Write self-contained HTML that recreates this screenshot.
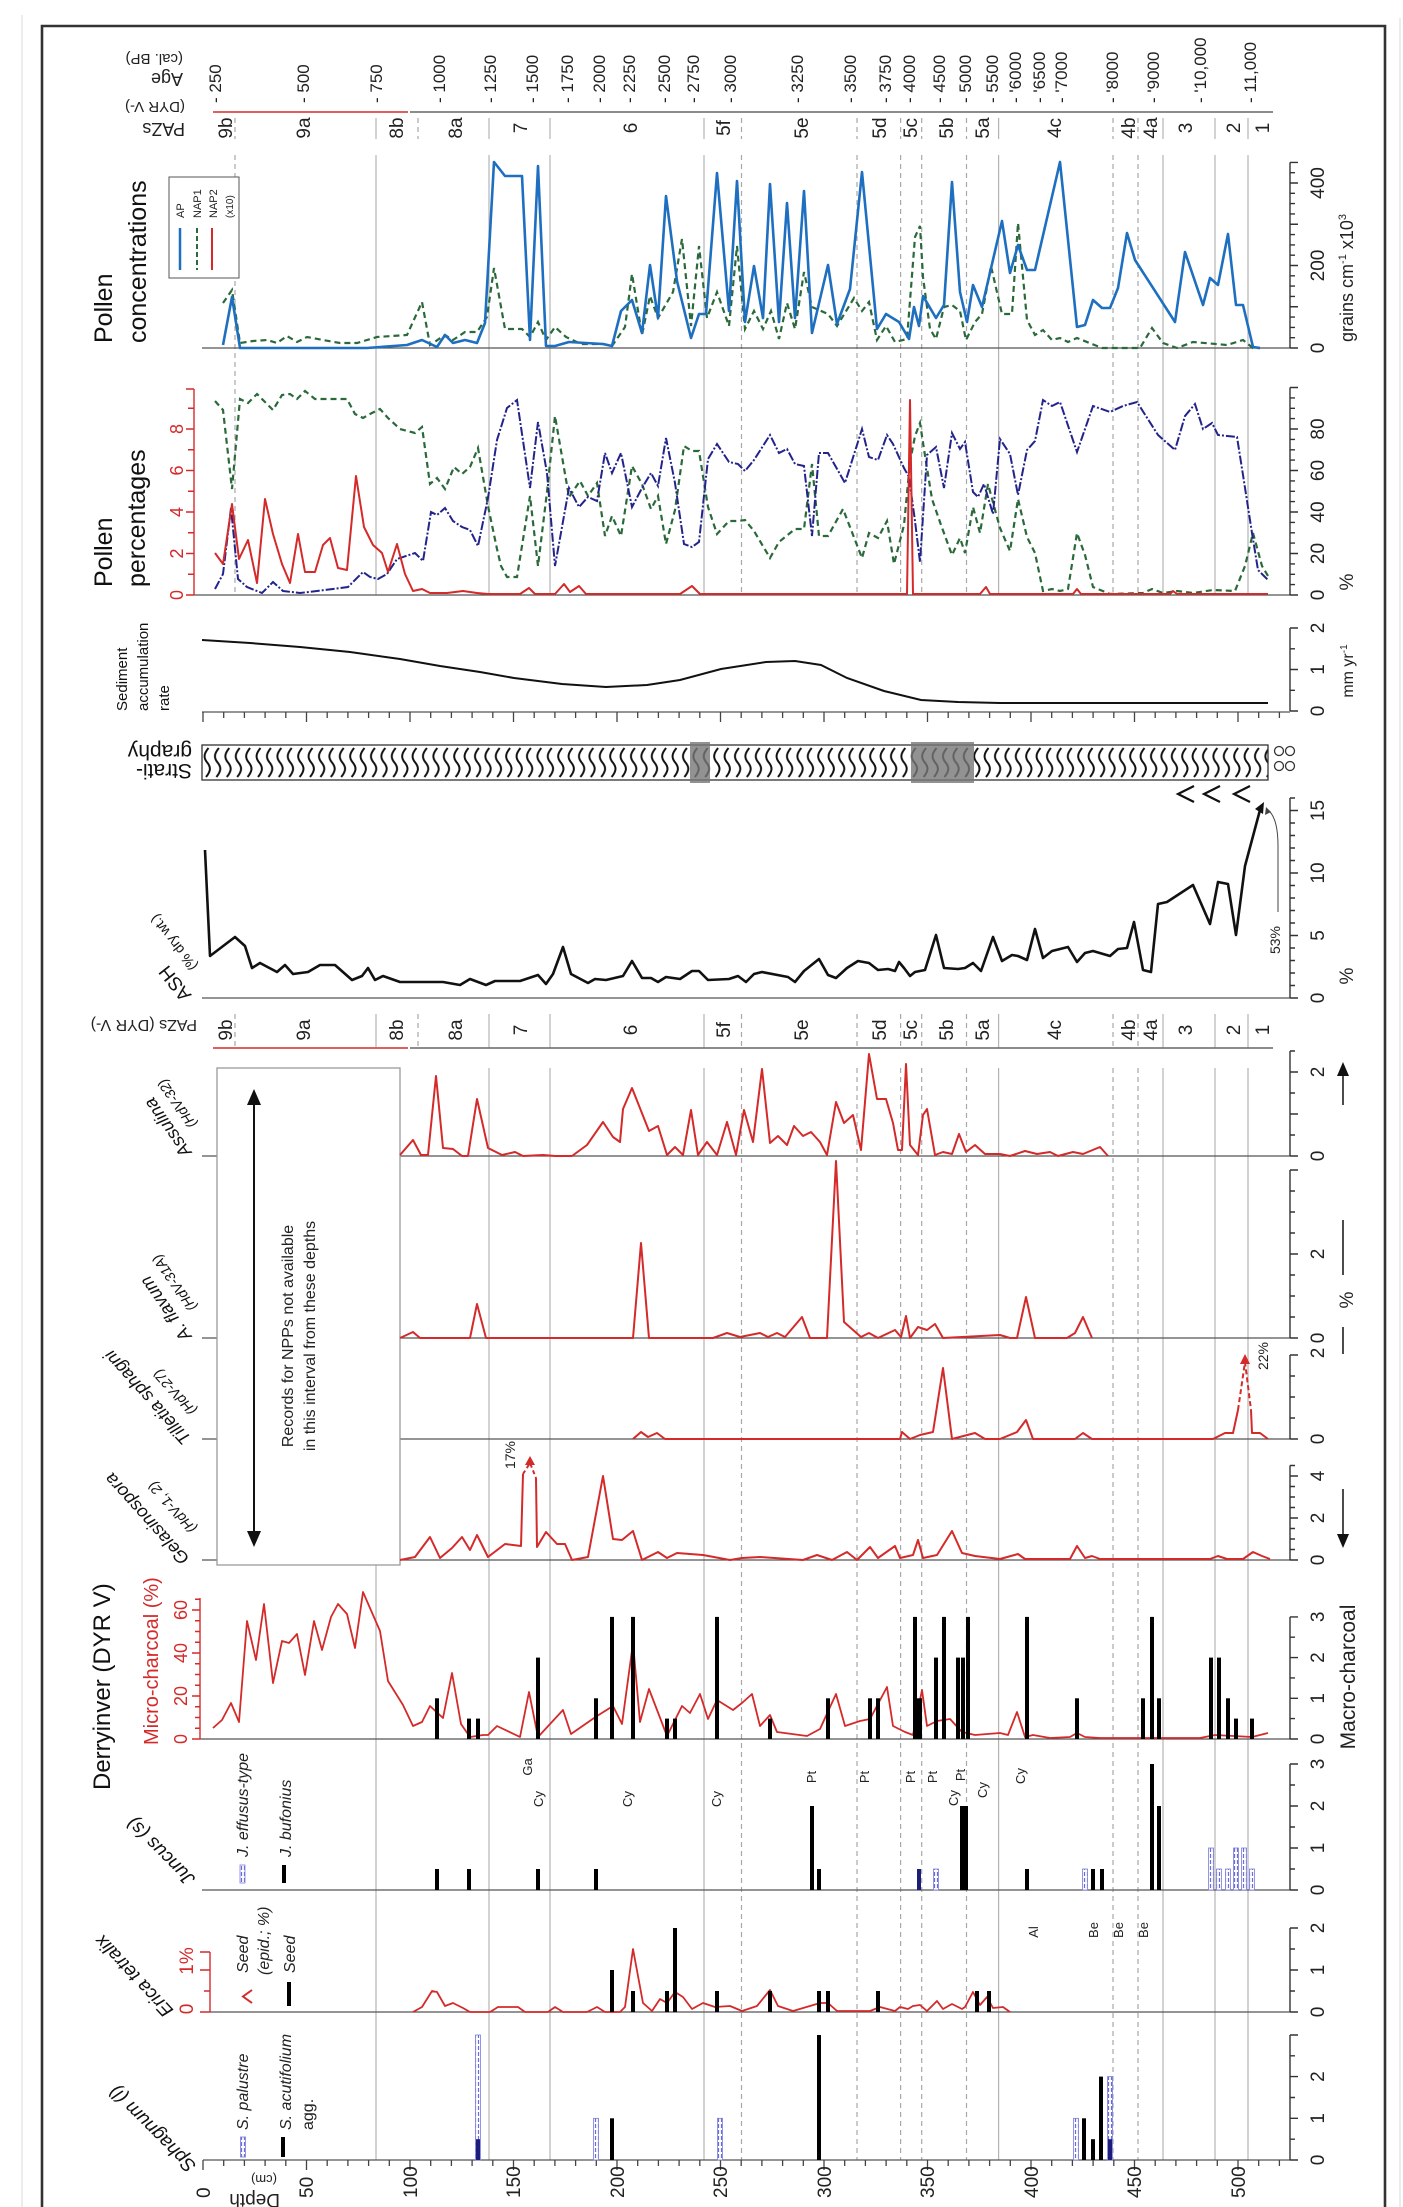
<!DOCTYPE html>
<html><head><meta charset="utf-8"><style>
html,body{margin:0;padding:0;background:#fff;overflow:hidden;}
svg{display:block;font-family:"Liberation Sans",sans-serif;}
</style></head><body>
<svg width="1403" height="2207" viewBox="0 0 1403 2207" xmlns="http://www.w3.org/2000/svg">
<defs>
<pattern id="wav" x="202" y="745" width="10.4" height="35" patternUnits="userSpaceOnUse">
<path d="M6.5,3 C1.5,9 1.5,13 5.2,17.5 C9,22 9,26 4,32" fill="none" stroke="#111" stroke-width="2"/>
</pattern>
<pattern id="bh" x="0" y="0" width="6" height="6" patternUnits="userSpaceOnUse">
<rect width="6" height="6" fill="#fff"/>
<path d="M1.5,0 V4 M4.5,0 V4" stroke="#6b6bdc" stroke-width="1.2"/>
</pattern>
<path id="dt" d="M203,0 v10 M223.7,0 v6 M244.4,0 v6 M265.1,0 v6 M285.8,0 v6 M306.5,0 v10 M327.2,0 v6 M347.9,0 v6 M368.6,0 v6 M389.3,0 v6 M410,0 v10 M430.7,0 v6 M451.4,0 v6 M472.1,0 v6 M492.8,0 v6 M513.5,0 v10 M534.2,0 v6 M554.9,0 v6 M575.6,0 v6 M596.3,0 v6 M617,0 v10 M637.7,0 v6 M658.4,0 v6 M679.1,0 v6 M699.8,0 v6 M720.5,0 v10 M741.2,0 v6 M761.9,0 v6 M782.6,0 v6 M803.3,0 v6 M824,0 v10 M844.7,0 v6 M865.4,0 v6 M886.1,0 v6 M906.8,0 v6 M927.5,0 v10 M948.2,0 v6 M968.9,0 v6 M989.6,0 v6 M1010.3,0 v6 M1031,0 v10 M1051.7,0 v6 M1072.4,0 v6 M1093.1,0 v6 M1113.8,0 v6 M1134.5,0 v10 M1155.2,0 v6 M1175.9,0 v6 M1196.6,0 v6 M1217.3,0 v6 M1238,0 v10 M1258.7,0 v6 M1279.4,0 v6" stroke="#444" stroke-width="1.3" fill="none"/>
</defs>

<!-- faint outer lines -->
<path d="M22,15 V2207 M1400,18 V2207" stroke="#e6e6e6" stroke-width="1.5"/>
<!-- frame -->
<path d="M42,2207 V26 H1385 V2207" fill="none" stroke="#333" stroke-width="2.6"/>

<!-- zone lines -->
<g fill="none" stroke-width="1.2">
<path stroke="#b3b3b3" d="M376,118V139M376,155V595 M489,118V139M489,155V595 M550,118V139M550,155V595 M704,118V139M704,155V595 M998.6,118V139M998.6,155V595 M1163,118V139M1163,155V595 M1215,118V139M1215,155V595 M1248,118V139M1248,155V595
M376,1014V1048M376,1068V2160 M489,1014V1048M489,1068V2160 M550,1014V1048M550,1068V2160 M704,1014V1048M704,1068V2160 M998.6,1014V1048M998.6,1068V2160 M1163,1014V1048M1163,1068V2160 M1215,1014V1048M1215,1068V2160 M1248,1014V1048M1248,1068V2160"/>
<path stroke="#a8a8a8" stroke-dasharray="5,4" d="M235,118V139M235,155V595 M418,118V139 M741.5,118V139M741.5,155V595 M857,118V139M857,155V595 M900.6,118V139M900.6,155V595 M921.7,118V139M921.7,155V595 M966.5,118V139M966.5,155V595 M1113,118V139M1113,155V595 M1138,118V139M1138,155V595
M235,1014V1048 M418,1014V1048 M741.5,1014V1048M741.5,1068V2160 M857,1014V1048M857,1068V2160 M900.6,1014V1048M900.6,1068V2160 M921.7,1014V1048M921.7,1068V2160 M966.5,1014V1048M966.5,1068V2160 M1113,1014V1048M1113,1068V2160 M1138,1014V1048M1138,1068V2160"/>
</g>

<!-- top header labels (upside down) -->
<g fill="#222">
<text transform="translate(183,54) rotate(180)" font-size="15">(cal. BP)</text>
<text transform="translate(183,73) rotate(180)" font-size="18">Age</text>
<text transform="translate(185,102) rotate(180)" font-size="15">(DYR V-)</text>
<text transform="translate(185,123) rotate(180)" font-size="18">PAZs</text>
</g>
<!-- age labels -->
<g font-size="17" fill="#222">
<text transform="translate(221,103) rotate(-90)">- 250</text>
<text transform="translate(309,103) rotate(-90)">- 500</text>
<text transform="translate(382,103) rotate(-90)">- 750</text>
<text transform="translate(445,103) rotate(-90)">- 1000</text>
<text transform="translate(496,103) rotate(-90)">- 1250</text>
<text transform="translate(538,103) rotate(-90)">- 1500</text>
<text transform="translate(573,103) rotate(-90)">- 1750</text>
<text transform="translate(605,103) rotate(-90)">- 2000</text>
<text transform="translate(635,103) rotate(-90)">- 2250</text>
<text transform="translate(670,103) rotate(-90)">- 2500</text>
<text transform="translate(699,103) rotate(-90)">- 2750</text>
<text transform="translate(736,103) rotate(-90)">- 3000</text>
<text transform="translate(803,103) rotate(-90)">- 3250</text>
<text transform="translate(856,103) rotate(-90)">- 3500</text>
<text transform="translate(891,103) rotate(-90)">- 3750</text>
<text transform="translate(915,103) rotate(-90)">- 4000</text>
<text transform="translate(945,103) rotate(-90)">- 4500</text>
<text transform="translate(971,103) rotate(-90)">- 5000</text>
<text transform="translate(998,103) rotate(-90)">- 5500</text>
<text transform="translate(1021,103) rotate(-90)">- '6000</text>
<text transform="translate(1045,103) rotate(-90)">- '6500</text>
<text transform="translate(1067,103) rotate(-90)">- '7000</text>
<text transform="translate(1118,103) rotate(-90)">- '8000</text>
<text transform="translate(1159,103) rotate(-90)">- '9000</text>
<text transform="translate(1206,103) rotate(-90)">- '10,000</text>
<text transform="translate(1256,103) rotate(-90)">- 11,000</text>
</g>
<!-- PAZ lines -->
<path d="M213,112 H408 M213,1048 H408" stroke="#e06060" stroke-width="2"/>
<path d="M410,112 H1273 M410,1048 H1273" stroke="#666" stroke-width="1.5"/>
<!-- PAZ labels row 1 & 2 -->
<g font-size="19" fill="#222" text-anchor="middle">
<text transform="translate(232,128) rotate(-90)">9b</text>
<text transform="translate(310,128) rotate(-90)">9a</text>
<text transform="translate(403,128) rotate(-90)">8b</text>
<text transform="translate(462,128) rotate(-90)">8a</text>
<text transform="translate(527,128) rotate(-90)">7</text>
<text transform="translate(637,128) rotate(-90)">6</text>
<text transform="translate(730,128) rotate(-90)">5f</text>
<text transform="translate(808,128) rotate(-90)">5e</text>
<text transform="translate(886,128) rotate(-90)">5d</text>
<text transform="translate(917,128) rotate(-90)">5c</text>
<text transform="translate(953,128) rotate(-90)">5b</text>
<text transform="translate(989,128) rotate(-90)">5a</text>
<text transform="translate(1061,128) rotate(-90)">4c</text>
<text transform="translate(1135,128) rotate(-90)">4b</text>
<text transform="translate(1157,128) rotate(-90)">4a</text>
<text transform="translate(1192,128) rotate(-90)">3</text>
<text transform="translate(1240,128) rotate(-90)">2</text>
<text transform="translate(1269,128) rotate(-90)">1</text>

<text transform="translate(232,1030) rotate(-90)">9b</text>
<text transform="translate(310,1030) rotate(-90)">9a</text>
<text transform="translate(403,1030) rotate(-90)">8b</text>
<text transform="translate(462,1030) rotate(-90)">8a</text>
<text transform="translate(527,1030) rotate(-90)">7</text>
<text transform="translate(637,1030) rotate(-90)">6</text>
<text transform="translate(730,1030) rotate(-90)">5f</text>
<text transform="translate(808,1030) rotate(-90)">5e</text>
<text transform="translate(886,1030) rotate(-90)">5d</text>
<text transform="translate(917,1030) rotate(-90)">5c</text>
<text transform="translate(953,1030) rotate(-90)">5b</text>
<text transform="translate(989,1030) rotate(-90)">5a</text>
<text transform="translate(1061,1030) rotate(-90)">4c</text>
<text transform="translate(1135,1030) rotate(-90)">4b</text>
<text transform="translate(1157,1030) rotate(-90)">4a</text>
<text transform="translate(1192,1030) rotate(-90)">3</text>
<text transform="translate(1240,1030) rotate(-90)">2</text>
<text transform="translate(1269,1030) rotate(-90)">1</text>
</g>
<text transform="translate(197,1020) rotate(180)" font-size="16" fill="#222">PAZs (DYR V-)</text>

<!-- Panel titles (left) -->
<g fill="#111">
<text transform="translate(112,343) rotate(-90)" font-size="25">Pollen</text>
<text transform="translate(146,343) rotate(-90)" font-size="25">concentrations</text>
<text transform="translate(112,587) rotate(-90)" font-size="25">Pollen</text>
<text transform="translate(145,587) rotate(-90)" font-size="25">percentages</text>
<text transform="translate(127,711) rotate(-90)" font-size="15">Sediment</text>
<text transform="translate(148,711) rotate(-90)" font-size="15">accumulation</text>
<text transform="translate(169,711) rotate(-90)" font-size="15">rate</text>
<text transform="translate(192,764) rotate(180)" font-size="21">Strati-</text>
<text transform="translate(192,745) rotate(180)" font-size="21">graphy</text>
<text transform="translate(192,995) rotate(-128)" font-size="19">ASH</text>
<text transform="translate(198,966) rotate(-128)" font-size="14">(% dry wt.)</text>
<g font-style="italic">
<text transform="translate(192,1152) rotate(-125)" font-size="18">Assulina</text>
<text transform="translate(197,1124) rotate(-125)" font-size="14">(HdV-32)</text>
<text transform="translate(192,1336) rotate(-125)" font-size="18">A. flavum</text>
<text transform="translate(197,1307) rotate(-125)" font-size="14">(HdV-31A)</text>
<text transform="translate(192,1438) rotate(-132)" font-size="18">Tilletia sphagni</text>
<text transform="translate(197,1410) rotate(-132)" font-size="14">(HdV-27)</text>
<text transform="translate(190,1558) rotate(-132)" font-size="18">Gelasinospora</text>
<text transform="translate(197,1528) rotate(-132)" font-size="14">(HdV-1, 2)</text>
<text transform="translate(196,1878) rotate(-135)" font-size="19">Juncus (s)</text>
<text transform="translate(174,2010) rotate(-133)" font-size="19">Erica tetralix</text>
<text transform="translate(197,2165) rotate(-135)" font-size="19">Sphagnum (l)</text>
</g>
<text transform="translate(110,1790) rotate(-90)" font-size="24">Derryinver (DYR V)</text>
<text transform="translate(158,1745) rotate(-90)" font-size="20" fill="#d42a2a">Micro-charcoal (%)</text>
</g>

<!-- legend pollen conc -->
<rect x="169" y="177" width="70" height="101" fill="#fff" stroke="#555" stroke-width="1"/>
<path d="M180,228 V270" stroke="#1e6fc0" stroke-width="2.5"/>
<path d="M197,228 V270" stroke="#2a6a3a" stroke-width="2" stroke-dasharray="5,3"/>
<path d="M212,228 V270" stroke="#d42a2a" stroke-width="2"/>
<g font-size="11" fill="#222">
<text transform="translate(184,218) rotate(-90)">AP</text>
<text transform="translate(201,218) rotate(-90)">NAP1</text>
<text transform="translate(217,218) rotate(-90)">NAP2</text>
<text transform="translate(233,218) rotate(-90)" font-size="10">(x10)</text>
</g>

<!-- baselines -->
<g stroke="#555" stroke-width="1.3" fill="none">
<path d="M202,348 H1290 M194,595 H1290 M202,712 H1290 M202,998 H1290 M200,1739 H1290 M202,1890 H1290 M210,2012 H1290 M203,2160 H1290"/>
<path d="M202,1156 H217 M400,1156 H1290 M202,1338 H217 M400,1338 H1290 M202,1439 H217 M400,1439 H1290 M202,1560 H217 M400,1560 H1290"/>
</g>
<use href="#dt" y="2160"/>
<use href="#dt" y="712"/>

<!-- Right axes -->
<g stroke="#333" stroke-width="1.4" fill="none">
<path d="M1290,348V162.4 M1290,348H1298 M1290,337.7H1295 M1290,327.4H1295 M1290,317.1H1295 M1290,306.75H1298 M1290,296.4H1295 M1290,286.1H1295 M1290,275.8H1295 M1290,265.5H1298 M1290,255.2H1295 M1290,244.9H1295 M1290,234.6H1295 M1290,224.25H1298 M1290,213.9H1295 M1290,203.6H1295 M1290,193.3H1295 M1290,183H1298 M1290,172.7H1295 M1290,162.4H1298"/>
<path d="M1290,595V387.5 M1290,595H1298 M1290,584.6H1295 M1290,574.3H1295 M1290,563.9H1295 M1290,553.5H1298 M1290,543.1H1295 M1290,532.8H1295 M1290,522.4H1295 M1290,512H1298 M1290,501.6H1295 M1290,491.3H1295 M1290,480.9H1295 M1290,470.5H1298 M1290,460.1H1295 M1290,449.8H1295 M1290,439.4H1295 M1290,429H1298 M1290,418.6H1295 M1290,408.3H1295 M1290,397.9H1295 M1290,387.5H1298"/>
<path d="M1290,711V628 M1290,711H1298 M1290,690.3H1295 M1290,669.5H1298 M1290,648.8H1295 M1290,628H1298"/>
<path d="M1290,998V798 M1290,998H1298 M1290,985.5H1295 M1290,973H1295 M1290,960.5H1295 M1290,948H1295 M1290,935.5H1298 M1290,923H1295 M1290,910.5H1295 M1290,898H1295 M1290,885.5H1295 M1290,873H1298 M1290,860.5H1295 M1290,848H1295 M1290,835.5H1295 M1290,823H1295 M1290,810.5H1298 M1290,798H1295"/>
<path d="M1290,1156V1051 M1290,1156H1298 M1290,1135H1295 M1290,1114H1298 M1290,1093H1295 M1290,1072H1298 M1290,1051H1295"/>
<path d="M1290,1338V1170 M1290,1338H1298 M1290,1317H1295 M1290,1296H1295 M1290,1275H1295 M1290,1254H1298 M1290,1233H1295 M1290,1212H1295 M1290,1191H1295 M1290,1170H1298"/>
<path d="M1290,1439V1355 M1290,1439H1298 M1290,1418H1295 M1290,1397H1295 M1290,1376H1295 M1290,1355H1298"/>
<path d="M1290,1560V1465.5 M1290,1560H1298 M1290,1549.5H1295 M1290,1539H1295 M1290,1528.5H1295 M1290,1518H1298 M1290,1507.5H1295 M1290,1497H1295 M1290,1486.5H1295 M1290,1476H1298 M1290,1465.5H1295"/>
<path d="M1290,1739V1616.9 M1290,1739H1298 M1290,1718.6H1295 M1290,1698.3H1298 M1290,1677.9H1295 M1290,1657.6H1298 M1290,1637.2H1295 M1290,1616.9H1298"/>
<path d="M1290,1890V1764 M1290,1890H1298 M1290,1869H1295 M1290,1848H1298 M1290,1827H1295 M1290,1806H1298 M1290,1785H1295 M1290,1764H1298"/>
<path d="M1290,2012V1928 M1290,2012H1298 M1290,1991H1295 M1290,1970H1298 M1290,1949H1295 M1290,1928H1298"/>
<path d="M1290,2160V2035 M1290,2160H1298 M1290,2139.2H1295 M1290,2118.3H1298 M1290,2097.5H1295 M1290,2076.6H1298 M1290,2055.8H1295 M1290,2035H1298"/>
</g>
<g font-size="19" fill="#222" text-anchor="middle">
<text transform="translate(1324,348) rotate(-90)">0</text>
<text transform="translate(1324,265.5) rotate(-90)">200</text>
<text transform="translate(1324,183) rotate(-90)">400</text>
<text transform="translate(1324,595) rotate(-90)">0</text>
<text transform="translate(1324,553.5) rotate(-90)">20</text>
<text transform="translate(1324,512) rotate(-90)">40</text>
<text transform="translate(1324,470.5) rotate(-90)">60</text>
<text transform="translate(1324,429) rotate(-90)">80</text>
<text transform="translate(1324,711) rotate(-90)">0</text>
<text transform="translate(1324,669.5) rotate(-90)">1</text>
<text transform="translate(1324,628) rotate(-90)">2</text>
<text transform="translate(1324,998) rotate(-90)">0</text>
<text transform="translate(1324,935.5) rotate(-90)">5</text>
<text transform="translate(1324,873) rotate(-90)">10</text>
<text transform="translate(1324,810.5) rotate(-90)">15</text>
<text transform="translate(1324,1156) rotate(-90)">0</text>
<text transform="translate(1324,1072) rotate(-90)">2</text>
<text transform="translate(1324,1338) rotate(-90)">0</text>
<text transform="translate(1324,1254) rotate(-90)">2</text>
<text transform="translate(1324,1439) rotate(-90)">0</text>
<text transform="translate(1324,1353) rotate(-90)">2</text>
<text transform="translate(1324,1560) rotate(-90)">0</text>
<text transform="translate(1324,1518) rotate(-90)">2</text>
<text transform="translate(1324,1476) rotate(-90)">4</text>
<text transform="translate(1324,1739) rotate(-90)">0</text>
<text transform="translate(1324,1698.3) rotate(-90)">1</text>
<text transform="translate(1324,1657.6) rotate(-90)">2</text>
<text transform="translate(1324,1616.9) rotate(-90)">3</text>
<text transform="translate(1324,1890) rotate(-90)">0</text>
<text transform="translate(1324,1848) rotate(-90)">1</text>
<text transform="translate(1324,1806) rotate(-90)">2</text>
<text transform="translate(1324,1764) rotate(-90)">3</text>
<text transform="translate(1324,2012) rotate(-90)">0</text>
<text transform="translate(1324,1970) rotate(-90)">1</text>
<text transform="translate(1324,1928) rotate(-90)">2</text>
<text transform="translate(1324,2160) rotate(-90)">0</text>
<text transform="translate(1324,2118.3) rotate(-90)">1</text>
<text transform="translate(1324,2076.6) rotate(-90)">2</text>
</g>
<!-- right axis titles -->
<g fill="#222" text-anchor="middle">
<text transform="translate(1353,278) rotate(-90)" font-size="18">grains cm<tspan font-size="11" dy="-7">-1</tspan><tspan dy="7"> x10</tspan><tspan font-size="11" dy="-7">3</tspan></text>
<text transform="translate(1353,582) rotate(-90)" font-size="19">%</text>
<text transform="translate(1353,671) rotate(-90)" font-size="16">mm yr<tspan font-size="10" dy="-6">-1</tspan></text>
<text transform="translate(1353,976) rotate(-90)" font-size="19">%</text>
<text transform="translate(1353,1300) rotate(-90)" font-size="19">%</text>
<text transform="translate(1355,1677) rotate(-90)" font-size="21">Macro-charcoal</text>
</g>
<!-- NPP arrow on right -->
<g stroke="#111" stroke-width="1.5">
<path d="M1343,1072 V1105 M1343,1220 V1275 M1343,1327 V1354 M1343,1489 V1540"/>
</g>
<path d="M1343,1062 L1337,1076 L1349,1076 Z M1343,1548 L1337,1534 L1349,1534 Z" fill="#111"/>

<!-- left red axes -->
<g stroke="#d42a2a" stroke-width="1.4" fill="none">
<path d="M194,595V389 M186,595H194 M188,574.25H194 M186,553.5H194 M188,532.75H194 M186,512H194 M188,491.25H194 M186,470.5H194 M188,449.75H194 M186,429H194 M188,408.25H194 M186,389H194"/>
<path d="M200,1739V1598 M192,1739H200 M195,1728.25H200 M195,1717.5H200 M195,1706.75H200 M192,1696H200 M195,1685.25H200 M195,1674.5H200 M195,1663.75H200 M192,1653H200 M195,1642.25H200 M195,1631.5H200 M195,1620.75H200 M192,1610H200 M195,1599.25H200"/>
<path d="M210,2012V1952 M200,2012H210 M204,1991H210 M200,1970H210 M200,1952H210"/>
</g>
<g fill="#d42a2a" font-size="18" text-anchor="middle">
<text transform="translate(183,595) rotate(-90)">0</text>
<text transform="translate(183,553.5) rotate(-90)">2</text>
<text transform="translate(183,512) rotate(-90)">4</text>
<text transform="translate(183,470.5) rotate(-90)">6</text>
<text transform="translate(183,429) rotate(-90)">8</text>
<text transform="translate(187,1739) rotate(-90)">0</text>
<text transform="translate(187,1696) rotate(-90)">20</text>
<text transform="translate(187,1653) rotate(-90)">40</text>
<text transform="translate(187,1610) rotate(-90)">60</text>
<text transform="translate(193,2009) rotate(-90)" font-size="19">0</text>
<text transform="translate(193,1961) rotate(-90)" font-size="19">1%</text>
</g>

<!-- depth labels -->
<g font-size="19" fill="#222">
<text transform="translate(210,2198) rotate(-90)">0</text>
<text transform="translate(313,2198) rotate(-90)">50</text>
<text transform="translate(417,2198) rotate(-90)">100</text>
<text transform="translate(520,2198) rotate(-90)">150</text>
<text transform="translate(624,2198) rotate(-90)">200</text>
<text transform="translate(727,2198) rotate(-90)">250</text>
<text transform="translate(831,2198) rotate(-90)">300</text>
<text transform="translate(934,2198) rotate(-90)">350</text>
<text transform="translate(1038,2198) rotate(-90)">400</text>
<text transform="translate(1141,2198) rotate(-90)">450</text>
<text transform="translate(1245,2198) rotate(-90)">500</text>
</g>
<text transform="translate(280,2194) rotate(180)" font-size="19" fill="#222">Depth</text>
<text transform="translate(277,2175) rotate(180)" font-size="13" fill="#222">(cm)</text>

<!-- Pollen concentrations -->
<polyline fill="none" stroke="#2a6a3a" stroke-width="2.2" stroke-dasharray="6,4" points="223,303 232,290 240,343 253,341 267,340 277,343 287,336 297,342 307,337 323,340 340,343 357,343 377,337 407,335 422,302 430,345 445,335 453,340 465,332 477,332 487,317 494,268 505,329 522,329 530,337 538,322 546,340 555,327 566,337 581,344 603,344 612,346 625,327 632,274 642,335 650,296 658,318 673,292 682,239 691,326 699,246 707,318 717,292 729,326 737,246 745,329 754,311 763,329 771,311 779,339 787,303 795,329 804,272 812,307 828,314 837,326 854,298 862,311 869,302 877,340 886,326 895,342 907,339 915,237 920,226 923,277 930,329 936,339 944,307 952,305 960,311 966,340 975,322 982,314 991,266 1002,314 1012,314 1018,223 1027,320 1035,335 1043,330 1052,340 1060,338 1068,342 1077,338 1102,348 1140,348 1152,328 1163,343 1177,348 1193,342 1227,345 1243,340 1253,348 1260,348"/>
<polyline fill="none" stroke="#1e6fc0" stroke-width="2.6" stroke-linejoin="round" points="223,345 232,297 240,348 367,348 407,345 422,340 437,347 445,335 453,343 465,340 477,343 485,323 494,162 505,176 522,176 530,340 538,166 546,346 555,346 569,342 603,344 612,346 621,311 632,300 642,333 650,265 658,318 666,196 677,281 691,338 699,314 706,314 717,173 729,311 737,181 745,322 754,266 763,318 770,184 779,322 787,203 795,318 804,191 812,333 828,265 837,324 850,289 862,172 877,329 886,314 899,322 909,339 914,307 919,326 923,296 936,318 944,305 952,182 960,292 967,322 973,285 982,307 1002,221 1010,273 1018,245 1027,270 1035,270 1060,162 1077,327 1085,325 1093,300 1102,308 1110,308 1118,288 1127,233 1135,260 1175,322 1185,252 1203,305 1210,278 1218,285 1228,234 1236,305 1243,305 1253,347 1260,348"/>

<!-- Pollen percentages -->
<polyline fill="none" stroke="#2a6a3a" stroke-width="2.2" stroke-dasharray="6,4" points="215,401 223,410 232,489 240,399 248,403 257,394 273,410 282,395 290,394 297,399 305,391 315,399 323,399 333,399 347,399 355,414 363,418 370,414 380,409 388,418 400,429 415,433 422,427 430,484 437,478 445,489 454,467 462,474 470,467 478,448 488,506 497,549 501,566 507,577 517,577 530,496 538,566 547,492 555,416 569,497 580,481 588,496 597,483 605,536 612,516 621,536 632,466 642,484 651,509 658,496 666,544 675,510 684,446 692,451 699,451 708,507 717,534 729,521 738,521 745,520 754,531 770,558 779,542 795,529 804,529 812,464 819,536 828,536 843,509 862,558 869,533 878,538 887,521 894,564 904,525 910,462 915,436 920,423 926,462 932,499 941,525 952,555 960,538 965,553 973,507 980,533 988,484 1000,528 1010,551 1018,499 1027,537 1035,553 1043,591 1052,589 1060,591 1068,589 1077,533 1085,555 1093,587 1110,594 1143,593 1152,589 1163,593 1177,591 1193,593 1213,590 1235,591 1245,566 1253,533 1262,566 1268,576"/>
<polyline fill="none" stroke="#23238c" stroke-width="2" stroke-dasharray="9,2,2,2" points="215,589 223,574 231,508 238,579 247,587 262,593 273,582 283,591 300,593 317,591 333,589 348,587 363,572 370,577 378,579 387,574 397,559 415,553 423,561 431,512 437,515 445,508 453,521 462,527 470,530 478,546 488,498 497,440 507,408 517,400 530,488 538,422 547,473 555,566 569,488 579,507 588,497 597,501 605,453 612,473 621,453 632,507 642,488 651,473 658,486 666,438 675,483 684,544 692,547 699,542 708,459 717,444 729,462 738,464 745,471 754,460 770,435 779,453 787,449 795,464 804,466 812,536 819,453 828,453 845,483 862,429 869,457 878,460 887,435 893,444 904,468 909,477 915,521 920,562 927,455 936,447 944,488 952,433 960,449 965,442 973,492 978,497 984,484 993,514 1000,439 1010,454 1018,495 1027,450 1035,441 1043,400 1052,406 1060,402 1077,452 1093,406 1110,412 1123,406 1137,402 1158,435 1175,450 1185,416 1195,404 1203,429 1212,423 1218,435 1237,437 1243,475 1252,533 1258,570 1268,580"/>
<polyline fill="none" stroke="#d42a2a" stroke-width="2" stroke-linejoin="round" points="215,553 223,564 232,504 239,559 248,540 257,583 265,499 273,534 282,564 290,583 298,534 305,572 315,572 323,545 330,538 338,568 347,570 356,476 364,527 373,545 382,553 388,572 397,544 405,574 413,591 422,589 430,593 447,593 463,591 477,593 488,594 520,594 529,588 535,594 555,594 564,584 570,592 579,586 586,594 680,594 692,586 700,594 907,594 910,400 913,594 980,594 986,587 990,594 1073,594 1077,589 1081,594 1170,594 1173,591 1177,594 1268,594"/>

<!-- Sediment accumulation -->
<polyline fill="none" stroke="#111" stroke-width="2" points="202,640 250,643 300,647 350,652 400,659 440,666 480,672 514,678 562,684 606,687 647,685 680,680 721,669 766,662 795,661 821,665 847,678 884,691 921,700 958,702 1000,703 1268,703"/>

<!-- Stratigraphy -->
<rect x="202" y="745" width="1066" height="35" fill="url(#wav)" stroke="#333" stroke-width="1.3"/>
<rect x="690" y="742" width="20" height="41" fill="#777" fill-opacity="0.8"/>
<rect x="911" y="742" width="63" height="41" fill="#777" fill-opacity="0.8"/>
<g fill="none" stroke="#333" stroke-width="1.3">
<circle cx="1279" cy="751" r="4.5"/><circle cx="1279" cy="766" r="4.5"/>
<circle cx="1290" cy="751" r="4.5"/><circle cx="1290" cy="766" r="4.5"/>
</g>
<!-- < marks -->
<g fill="none" stroke="#111" stroke-width="2.2">
<polyline points="1194,786 1178,794 1194,802"/>
<polyline points="1220,786 1204,794 1220,802"/>
<polyline points="1250,786 1234,794 1250,802"/>
</g>

<!-- ASH -->
<polyline fill="none" stroke="#111" stroke-width="2.6" stroke-linejoin="round" points="205,850 210,956 235,937 245,946 252,968 260,963 277,972 285,965 293,974 308,972 320,965 335,965 352,980 362,976 368,968 375,980 383,976 400,982 427,982 443,982 460,985 470,979 486,985 495,981 520,981 538,975 546,984 553,974 563,947 571,974 588,983 595,979 606,980 623,976 632,961 642,978 651,978 658,982 666,977 680,979 692,971 699,971 708,980 729,979 738,976 746,982 754,974 762,972 788,977 795,982 804,971 819,959 828,975 836,978 847,968 858,961 869,963 878,970 888,969 895,971 899,962 904,968 910,976 915,972 925,970 936,935 944,968 958,969 965,968 973,963 981,971 993,937 1002,961 1012,955 1018,956 1027,960 1035,929 1043,958 1052,951 1068,947 1077,962 1085,953 1093,951 1110,956 1118,949 1127,948 1134,922 1143,970 1151,972 1158,904 1167,902 1193,885 1210,924 1218,882 1228,884 1236,935 1245,866 1260,810"/>
<path d="M1264,802 L1255,809 L1263,814 Z" fill="#111"/>
<path d="M1278,912 V846 Q1278,818 1268,810" fill="none" stroke="#444" stroke-width="1"/>
<path d="M1266,807 L1265,815 L1271,812 Z" fill="#444"/>
<text transform="translate(1280,940) rotate(-90)" font-size="14" fill="#222" text-anchor="middle">53%</text>

<!-- NPP box -->
<rect x="217" y="1068" width="183" height="497" fill="#fff" stroke="#9a9a9a" stroke-width="1.3"/>
<path d="M254,1100 V1536" stroke="#111" stroke-width="2"/>
<path d="M254,1089 L247,1105 L261,1105 Z M254,1547 L247,1531 L261,1531 Z" fill="#111"/>
<g font-size="16" fill="#222" text-anchor="middle">
<text transform="translate(293,1336) rotate(-90)">Records for NPPs not available</text>
<text transform="translate(315,1336) rotate(-90)">in this interval from these depths</text>
</g>

<!-- NPP curves -->
<g fill="none" stroke="#d42a2a" stroke-width="2" stroke-linejoin="round">
<polyline points="400,1155 413,1140 421,1155 428,1155 436,1076 443,1148 453,1149 462,1156 468,1156 477,1099 488,1148 502,1155 515,1152 523,1156 543,1155 555,1156 572,1156 587,1145 603,1122 613,1137 620,1142 623,1109 632,1088 649,1131 658,1126 667,1155 675,1147 683,1155 691,1110 698,1155 707,1142 717,1155 727,1122 736,1155 744,1110 753,1142 762,1069 770,1143 778,1136 787,1145 794,1126 803,1136 811,1132 820,1142 827,1155 836,1102 844,1123 853,1115 861,1150 869,1054 877,1099 886,1099 893,1123 898,1150 902,1150 906,1064 910,1145 918,1155 923,1115 927,1109 935,1155 943,1152 952,1154 959,1134 966,1152 975,1145 985,1154 1000,1154 1010,1156 1025,1151 1037,1154 1050,1152 1058,1156 1073,1152 1083,1154 1100,1147 1108,1156"/>
<polyline points="400,1338 413,1332 420,1338 470,1338 477,1304 486,1338 633,1338 641,1243 649,1338 713,1338 727,1333 740,1337 760,1333 768,1337 777,1333 785,1337 802,1317 810,1338 827,1338 836,1161 844,1322 861,1337 869,1333 878,1338 895,1330 901,1337 906,1316 910,1338 918,1327 927,1330 935,1324 943,1338 1000,1335 1010,1338 1017,1338 1026,1297 1035,1338 1067,1338 1075,1333 1083,1317 1092,1338"/>
<polyline points="633,1439 641,1432 648,1437 657,1433 665,1439 900,1439 902,1432 910,1439 920,1435 933,1432 943,1368 952,1439 975,1433 985,1439 1000,1439 1017,1432 1026,1420 1033,1439 1075,1439 1083,1433 1092,1439 1213,1439 1225,1433 1233,1433 1238,1410"/>
<polyline points="1251,1410 1252,1433 1260,1433 1268,1439"/>
<polyline stroke-dasharray="5,3" points="1238,1410 1245,1362 1251,1410"/>
<polyline points="400,1560 415,1557 430,1537 440,1558 452,1548 462,1537 470,1550 477,1535 488,1557 505,1544 521,1546 523,1474"/>
<polyline stroke-dasharray="4,3" points="523,1474 530,1463 536,1478"/>
<polyline points="536,1478 537,1547 546,1532 557,1544 565,1544 572,1560 588,1557 603,1476 613,1539 622,1540 633,1531 642,1560 658,1552 667,1558 677,1553 703,1555 730,1560 742,1558 760,1557 803,1560 817,1555 832,1560 847,1552 857,1560 870,1547 878,1558 895,1546 900,1558 913,1555 918,1540 923,1558 937,1555 952,1531 962,1553 975,1556 1000,1559 1018,1554 1025,1559 1070,1559 1077,1546 1085,1558 1092,1556 1100,1559 1210,1559 1218,1556 1227,1559 1243,1559 1253,1552 1262,1556 1270,1559"/>
</g>
<path d="M1245,1354 L1240,1364 L1250,1364 Z M530,1456 L525,1465 L535,1465 Z" fill="#d42a2a"/>
<g font-size="14" fill="#222" text-anchor="middle">
<text transform="translate(1268,1356) rotate(-90)">22%</text>
<text transform="translate(515,1455) rotate(-90)">17%</text>
</g>

<!-- Micro-charcoal -->
<polyline fill="none" stroke="#d42a2a" stroke-width="1.8" stroke-linejoin="round" points="213,1728 222,1720 231,1703 239,1722 247,1621 256,1660 264,1604 273,1683 282,1641 289,1643 297,1634 305,1675 314,1621 322,1650 331,1617 338,1604 347,1614 355,1648 363,1592 380,1631 388,1681 403,1705 413,1726 422,1722 430,1706 443,1718 452,1673 461,1724 470,1737 483,1735 488,1735 497,1726 520,1737 529,1692 538,1737 563,1710 571,1734 597,1716 613,1706 622,1724 633,1643 640,1722 649,1689 667,1736 682,1706 690,1713 700,1694 708,1719 717,1700 733,1710 742,1703 752,1694 760,1726 770,1715 777,1732 807,1736 820,1729 836,1694 845,1726 860,1721 870,1719 887,1687 893,1726 905,1732 913,1735 922,1690 927,1726 937,1721 950,1719 962,1732 975,1735 1000,1733 1008,1735 1017,1712 1025,1737 1033,1735 1050,1738 1070,1737 1077,1733 1085,1737 1100,1738 1200,1738 1215,1735 1252,1737 1268,1733"/>
<!-- Macro-charcoal bars -->
<g fill="#000">
<rect x="435" y="1698.3" width="4" height="40.7"/>
<rect x="467" y="1718.6" width="4" height="20.4"/>
<rect x="476" y="1718.6" width="4" height="20.4"/>
<rect x="536" y="1657.6" width="4" height="81.4"/>
<rect x="594" y="1698.3" width="4" height="40.7"/>
<rect x="610" y="1616.9" width="4" height="122.1"/>
<rect x="631" y="1616.9" width="4" height="122.1"/>
<rect x="665" y="1718.6" width="4" height="20.4"/>
<rect x="673" y="1718.6" width="4" height="20.4"/>
<rect x="715" y="1616.9" width="4" height="122.1"/>
<rect x="768" y="1718.6" width="4" height="20.4"/>
<rect x="826" y="1698.3" width="4" height="40.7"/>
<rect x="868" y="1698.3" width="4" height="40.7"/>
<rect x="876" y="1698.3" width="4" height="40.7"/>
<rect x="913" y="1616.9" width="4" height="122.1"/>
<rect x="917" y="1698.3" width="5" height="40.7"/>
<rect x="934" y="1657.6" width="4" height="81.4"/>
<rect x="942" y="1616.9" width="4" height="122.1"/>
<rect x="956" y="1657.6" width="4" height="81.4"/>
<rect x="961" y="1657.6" width="4" height="81.4"/>
<rect x="966" y="1616.9" width="4" height="122.1"/>
<rect x="1025" y="1616.9" width="4" height="122.1"/>
<rect x="1075" y="1698.3" width="4" height="40.7"/>
<rect x="1141" y="1698.3" width="4" height="40.7"/>
<rect x="1150" y="1616.9" width="4" height="122.1"/>
<rect x="1157" y="1698.3" width="4" height="40.7"/>
<rect x="1209" y="1657.6" width="4" height="81.4"/>
<rect x="1217" y="1657.6" width="4" height="81.4"/>
<rect x="1226" y="1698.3" width="4" height="40.7"/>
<rect x="1234" y="1718.6" width="4" height="20.4"/>
<rect x="1250" y="1718.6" width="4" height="20.4"/>
</g>

<!-- Juncus -->
<g fill="#000">
<rect x="435" y="1869" width="4" height="21"/>
<rect x="467" y="1869" width="4" height="21"/>
<rect x="536" y="1869" width="4" height="21"/>
<rect x="594" y="1869" width="4" height="21"/>
<rect x="810" y="1806" width="4" height="84"/>
<rect x="817" y="1869" width="4" height="21"/>
<rect x="960" y="1806" width="4" height="84"/>
<rect x="964" y="1806" width="4" height="84"/>
<rect x="1025" y="1869" width="4" height="21"/>
<rect x="1091" y="1869" width="4" height="21"/>
<rect x="1100" y="1869" width="4" height="21"/>
<rect x="1150" y="1764" width="4" height="126"/>
<rect x="1157" y="1806" width="4" height="84"/>
</g>
<rect x="917" y="1869" width="4" height="21" fill="#1c1c7a"/>
<g fill="url(#bh)" stroke="#7b7be0" stroke-width="0.8">
<rect x="933.5" y="1869" width="5" height="21"/>
<rect x="1082.5" y="1869" width="5" height="21"/>
<rect x="1208.5" y="1848" width="5" height="42"/>
<rect x="1216.5" y="1869" width="5" height="21"/>
<rect x="1225.5" y="1869" width="5" height="21"/>
<rect x="1233.5" y="1848" width="5" height="42"/>
<rect x="1241.5" y="1848" width="5" height="42"/>
<rect x="1249.5" y="1869" width="5" height="21"/>
</g>
<g font-size="13" fill="#222" text-anchor="middle">
<text transform="translate(532,1767) rotate(-90)">Ga</text>
<text transform="translate(543,1799) rotate(-90)">Cy</text>
<text transform="translate(632,1799) rotate(-90)">Cy</text>
<text transform="translate(721,1799) rotate(-90)">Cy</text>
<text transform="translate(816,1777) rotate(-90)">Pt</text>
<text transform="translate(869,1777) rotate(-90)">Pt</text>
<text transform="translate(915,1777) rotate(-90)">Pt</text>
<text transform="translate(937,1777) rotate(-90)">Pt</text>
<text transform="translate(958,1798) rotate(-90)">Cy</text>
<text transform="translate(965,1775) rotate(-90)">Pt</text>
<text transform="translate(987,1790) rotate(-90)">Cy</text>
<text transform="translate(1025,1776) rotate(-90)">Cy</text>
<text transform="translate(1038,1932) rotate(-90)">Al</text>
<text transform="translate(1098,1930) rotate(-90)">Be</text>
<text transform="translate(1123,1930) rotate(-90)">Be</text>
<text transform="translate(1148,1930) rotate(-90)">Be</text>
</g>

<!-- Erica -->
<polyline fill="none" stroke="#d42a2a" stroke-width="1.8" stroke-linejoin="round" points="413,2012 422,2007 432,1991 437,1992 445,2006 453,2003 463,2008 470,2012 490,2012 498,2007 518,2007 525,2012 548,2012 555,2007 563,2012 587,2012 597,2007 605,2012 620,2012 625,2007 633,1949 643,2003 652,2011 660,1999 667,2003 675,1992 683,1997 692,2009 703,2003 715,2007 730,2006 742,2011 757,2006 770,1990 778,2006 793,2011 820,2003 828,2003 837,2011 870,2011 880,2007 895,2011 900,2007 908,2009 913,2006 920,2005 927,2011 937,2001 943,2009 952,2004 962,2009 965,2007 973,1992 980,2005 987,1997 993,2008 1003,2007 1010,2012"/>
<g fill="#000">
<rect x="610" y="1970" width="4" height="42"/>
<rect x="631" y="1991" width="4" height="21"/>
<rect x="665" y="1991" width="4" height="21"/>
<rect x="673" y="1928" width="4" height="84"/>
<rect x="715" y="1991" width="4" height="21"/>
<rect x="768" y="1991" width="4" height="21"/>
<rect x="817" y="1991" width="4" height="21"/>
<rect x="826" y="1991" width="4" height="21"/>
<rect x="876" y="1991" width="4" height="21"/>
<rect x="975" y="1991" width="4" height="21"/>
<rect x="987" y="1991" width="4" height="21"/>
</g>

<!-- Sphagnum -->
<g fill="#000">
<rect x="610" y="2118.3" width="4" height="41.7"/>
<rect x="817" y="2035" width="4" height="125"/>
<rect x="1082" y="2118.3" width="4" height="41.7"/>
<rect x="1091" y="2139.2" width="4" height="20.8"/>
<rect x="1099" y="2076.6" width="4" height="83.4"/>
</g>
<g fill="url(#bh)" stroke="#7b7be0" stroke-width="0.8">
<rect x="475.5" y="2035" width="5" height="125"/>
<rect x="593.5" y="2118.3" width="5" height="41.7"/>
<rect x="717.5" y="2118.3" width="5" height="41.7"/>
<rect x="1073.5" y="2118.3" width="5" height="41.7"/>
<rect x="1107.5" y="2076.6" width="5" height="83.4"/>
</g>
<rect x="476" y="2139.2" width="4" height="20.8" fill="#1c1c7a"/>
<rect x="1108" y="2139.2" width="4" height="20.8" fill="#1c1c7a"/>

<!-- legends bottom -->
<rect x="240" y="1865" width="5" height="18" fill="url(#bh)" stroke="#7b7be0" stroke-width="0.8"/>
<rect x="282" y="1865" width="4" height="18" fill="#000"/>
<rect x="287" y="1982" width="4" height="24" fill="#000"/>
<polyline points="252,1990 243,1996.5 252,2003" fill="none" stroke="#d42a2a" stroke-width="2"/>
<rect x="240.5" y="2137" width="5" height="20" fill="url(#bh)" stroke="#7b7be0" stroke-width="0.8"/>
<rect x="281" y="2137" width="4" height="20" fill="#000"/>
<g font-size="16" fill="#222" font-style="italic">
<text transform="translate(248,1857) rotate(-90)">J. effusus-type</text>
<text transform="translate(291,1857) rotate(-90)">J. bufonius</text>
<text transform="translate(248,1973) rotate(-90)">Seed</text>
<text transform="translate(269,1975) rotate(-90)">(epid.; %)</text>
<text transform="translate(295,1973) rotate(-90)">Seed</text>
<text transform="translate(248,2130) rotate(-90)">S. palustre</text>
<text transform="translate(291,2130) rotate(-90)">S. acutifolium</text>
<text transform="translate(313,2130) rotate(-90)" font-style="normal">agg.</text>
</g>
</svg>
</body></html>
